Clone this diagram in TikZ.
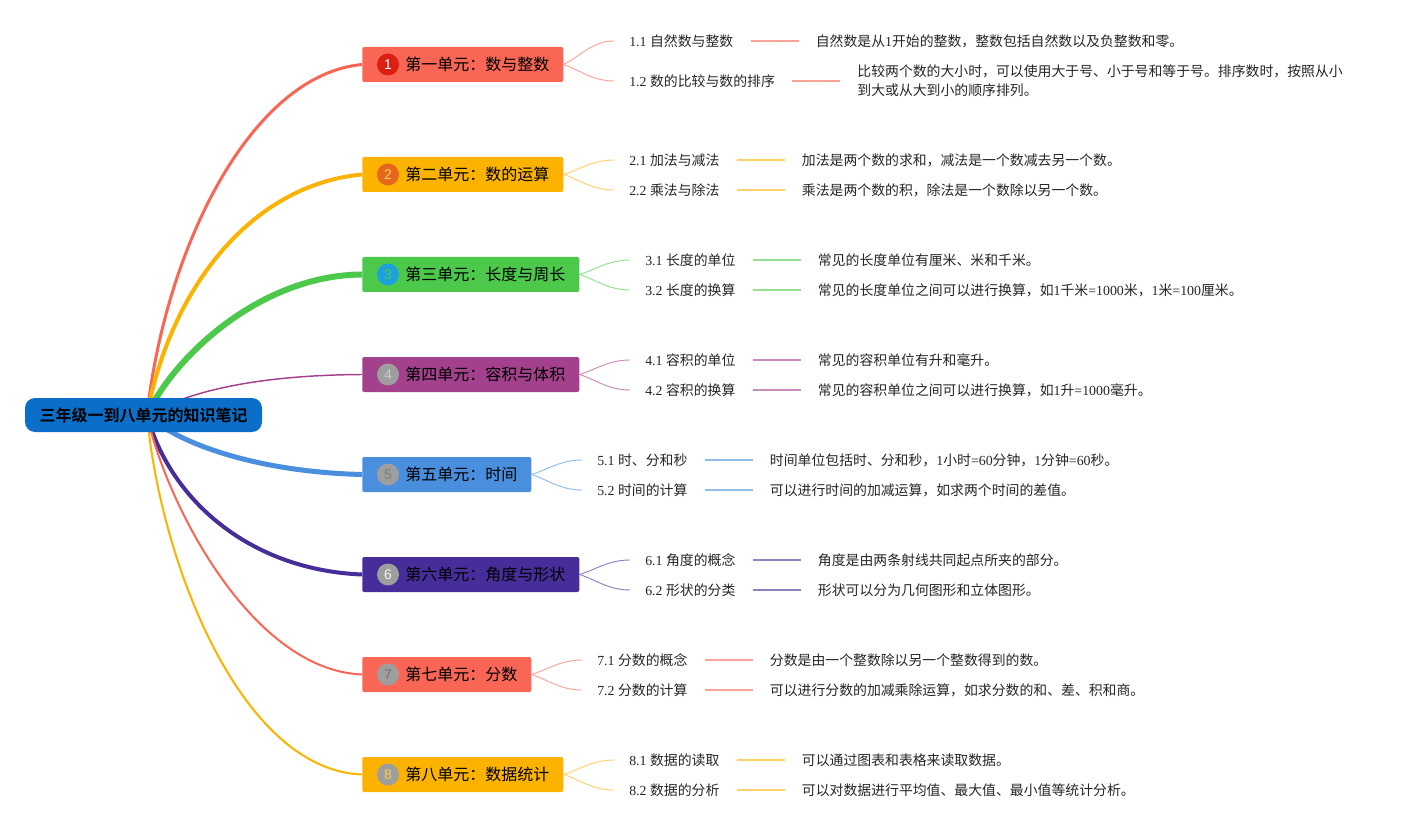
\documentclass[tikz,border=0pt]{standalone}
\usepackage{fontspec}
\setmainfont{Noto Sans CJK SC}[BoldFont={Noto Sans CJK SC Bold}]
\newfontfamily\latinfont{Liberation Serif}
\newfontfamily\badgefont{Liberation Sans}
\newcommand\latn[1]{{\latinfont #1}}
\usetikzlibrary{calc}
\definecolor{cA}{HTML}{F96655}
\definecolor{cB}{HTML}{FBB300}
\definecolor{cC}{HTML}{4CC94A}
\definecolor{cD}{HTML}{A3418C}
\definecolor{cE}{HTML}{4A8FDE}
\definecolor{cF}{HTML}{472D99}
\definecolor{rootblue}{HTML}{0B6FC9}
\definecolor{bA}{HTML}{DD1F13}
\definecolor{bB}{HTML}{E5661C}
\definecolor{bC}{HTML}{1CA1DC}
\definecolor{bG}{HTML}{9E9E9E}
\newcommand\branch[3]{%
  \coordinate (#3e) at ($(#3.west)+(-15,0)$);
  \draw[#1!60, line width=0.7pt] (#2.east) .. controls ($(#2.east)!0.3!(#3e)$) and ($(#3e)+(-22,0)$) .. (#3e);}
\newcommand\dline[3]{%
  \draw[#1!60, line width=1.1pt, shorten <=12.75pt, shorten >=12.75pt] (#2.east) -- (#2.east -| #3.west);}
\newcommand\utext[1]{\hspace*{32.25pt}#1\hspace*{10.5pt}}
\begin{document}
\begin{tikzpicture}[x=0.75pt,y=-0.75pt,
  unit/.style={anchor=west, inner sep=0pt, minimum height=26.25pt, rounded corners=1.5pt,
    font=\fontsize{12}{14}\selectfont, text=black},
  badge/.style={circle, inner sep=0pt, minimum size=16.5pt, font=\badgefont\fontsize{10.5}{12}\selectfont},
  sub/.style={anchor=west, inner sep=0pt, text height=0.88em, text depth=0.12em,
    font=\fontsize{10.4}{14.25}\selectfont, text=black!85},
  desc2/.style={anchor=west, inner sep=0pt, align=left,
    font=\fontsize{10.4}{14.25}\selectfont, text=black!85},
  root/.style={fill=rootblue, rounded corners=7.5pt, inner sep=0pt, minimum width=177.75pt,
    minimum height=25.5pt, font=\bfseries\fontsize{12}{14}\selectfont, text=black}
]
\fill[white] (0,0) rectangle (1416,830);
\useasboundingbox (0,0) rectangle (1416,830);

% unit node anchors (drawn first for names)
\node[unit] (u1) at (362,64.5) {\utext{第一单元：数与整数}};
\node[unit] (u2) at (362,174.5) {\utext{第二单元：数的运算}};
\node[unit] (u3) at (362,274.5) {\utext{第三单元：长度与周长}};
\node[unit] (u4) at (362,374.5) {\utext{第四单元：容积与体积}};
\node[unit] (u5) at (362,474.5) {\utext{第五单元：时间}};
\node[unit] (u6) at (362,574.5) {\utext{第六单元：角度与形状}};
\node[unit] (u7) at (362,674.5) {\utext{第七单元：分数}};
\node[unit] (u8) at (362,774.5) {\utext{第八单元：数据统计}};

% main connectors
\coordinate (hub) at (147,415);
\draw[cA, line width=2.25pt] (hub) .. controls (165,250) and (250,75) .. (u1.west);
\draw[cB, line width=3pt] (hub) .. controls (170,290) and (250,185) .. (u2.west);
\draw[cC, line width=4.5pt] (hub) .. controls (175,355) and (262,275) .. (u3.west);
\draw[cD, line width=1.1pt] (hub) .. controls (200,385) and (280,375) .. (u4.west);
\draw[cE, line width=3.75pt] (hub) .. controls (180,445) and (260,472) .. (u5.west);
\draw[cF, line width=3pt] (hub) .. controls (170,500) and (250,570) .. (u6.west);
\draw[cA, line width=1.5pt] (hub) .. controls (165,500) and (250,670) .. (u7.west);
\draw[cB, line width=1.5pt] (hub) .. controls (160,560) and (240,770) .. (u8.west);

% unit boxes on top of connector ends
\node[unit, fill=cA] at (362,64.5) {\utext{第一单元：数与整数}};
\node[unit, fill=cB] at (362,174.5) {\utext{第二单元：数的运算}};
\node[unit, fill=cC] at (362,274.5) {\utext{第三单元：长度与周长}};
\node[unit, fill=cD] at (362,374.5) {\utext{第四单元：容积与体积}};
\node[unit, fill=cE] at (362,474.5) {\utext{第五单元：时间}};
\node[unit, fill=cF] at (362,574.5) {\utext{第六单元：角度与形状}};
\node[unit, fill=cA] at (362,674.5) {\utext{第七单元：分数}};
\node[unit, fill=cB] at (362,774.5) {\utext{第八单元：数据统计}};

% root
\node[root] (root) at (143.5,415) {三年级一到八单元的知识笔记};

% badges
\node[badge, fill=bA, text=white] (b1) at ($(u1.west)+(26,0)$) {1};
\node[badge, fill=bB, text=cB!60] (b2) at ($(u2.west)+(26,0)$) {2};
\node[badge, fill=bC, text=cC] (b3) at ($(u3.west)+(26,0)$) {3};
\node[badge, fill=bG, text=black!20] (b4) at ($(u4.west)+(26,0)$) {4};
\node[badge, fill=bG, text=black!50] (b5) at ($(u5.west)+(26,0)$) {5};
\node[badge, fill=bG, text=black!6] (b6) at ($(u6.west)+(26,0)$) {6};
\node[badge, fill=bG, text=black!55] (b7) at ($(u7.west)+(26,0)$) {7};
\node[badge, fill=bG, text=cB!70] (b8) at ($(u8.west)+(26,0)$) {8};

% subtopics
\node[sub] (s11) at (629,41) {\latn{1.1 }自然数与整数};
\node[sub] (s12) at (629,81) {\latn{1.2 }数的比较与数的排序};
\node[sub] (s21) at (629,160) {\latn{2.1 }加法与减法};
\node[sub] (s22) at (629,190) {\latn{2.2 }乘法与除法};
\node[sub] (s31) at (645,260) {\latn{3.1 }长度的单位};
\node[sub] (s32) at (645,290) {\latn{3.2 }长度的换算};
\node[sub] (s41) at (645,360) {\latn{4.1 }容积的单位};
\node[sub] (s42) at (645,390) {\latn{4.2 }容积的换算};
\node[sub] (s51) at (597,460) {\latn{5.1 }时、分和秒};
\node[sub] (s52) at (597,490) {\latn{5.2 }时间的计算};
\node[sub] (s61) at (645,560) {\latn{6.1 }角度的概念};
\node[sub] (s62) at (645,590) {\latn{6.2 }形状的分类};
\node[sub] (s71) at (597,660) {\latn{7.1 }分数的概念};
\node[sub] (s72) at (597,690) {\latn{7.2 }分数的计算};
\node[sub] (s81) at (629,760) {\latn{8.1 }数据的读取};
\node[sub] (s82) at (629,790) {\latn{8.2 }数据的分析};

% descriptions
\node[sub] (d11) at ($(s11.east)+(82,0)$) {自然数是从\latn{1}开始的整数，整数包括自然数以及负整数和零。};
\node[desc2] (d12) at ($(s12.east)+(82,0)$) {比较两个数的大小时，可以使用大于号、小于号和等于号。排序数时，按照从小\\到大或从大到小的顺序排列。};
\node[sub] (d21) at ($(s21.east)+(82,0)$) {加法是两个数的求和，减法是一个数减去另一个数。};
\node[sub] (d22) at ($(s22.east)+(82,0)$) {乘法是两个数的积，除法是一个数除以另一个数。};
\node[sub] (d31) at ($(s31.east)+(82,0)$) {常见的长度单位有厘米、米和千米。};
\node[sub] (d32) at ($(s32.east)+(82,0)$) {常见的长度单位之间可以进行换算，如\latn{1}千米\latn{=1000}米，\latn{1}米\latn{=100}厘米。};
\node[sub] (d41) at ($(s41.east)+(82,0)$) {常见的容积单位有升和毫升。};
\node[sub] (d42) at ($(s42.east)+(82,0)$) {常见的容积单位之间可以进行换算，如\latn{1}升\latn{=1000}毫升。};
\node[sub] (d51) at ($(s51.east)+(82,0)$) {时间单位包括时、分和秒，\latn{1}小时\latn{=60}分钟，\latn{1}分钟\latn{=60}秒。};
\node[sub] (d52) at ($(s52.east)+(82,0)$) {可以进行时间的加减运算，如求两个时间的差值。};
\node[sub] (d61) at ($(s61.east)+(82,0)$) {角度是由两条射线共同起点所夹的部分。};
\node[sub] (d62) at ($(s62.east)+(82,0)$) {形状可以分为几何图形和立体图形。};
\node[sub] (d71) at ($(s71.east)+(82,0)$) {分数是由一个整数除以另一个整数得到的数。};
\node[sub] (d72) at ($(s72.east)+(82,0)$) {可以进行分数的加减乘除运算，如求分数的和、差、积和商。};
\node[sub] (d81) at ($(s81.east)+(82,0)$) {可以通过图表和表格来读取数据。};
\node[sub] (d82) at ($(s82.east)+(82,0)$) {可以对数据进行平均值、最大值、最小值等统计分析。};

% branch curves
\branch{cA}{u1}{s11}\branch{cA}{u1}{s12}
\branch{cB}{u2}{s21}\branch{cB}{u2}{s22}
\branch{cC}{u3}{s31}\branch{cC}{u3}{s32}
\branch{cD}{u4}{s41}\branch{cD}{u4}{s42}
\branch{cE}{u5}{s51}\branch{cE}{u5}{s52}
\branch{cF}{u6}{s61}\branch{cF}{u6}{s62}
\branch{cA}{u7}{s71}\branch{cA}{u7}{s72}
\branch{cB}{u8}{s81}\branch{cB}{u8}{s82}

% lines to descriptions
\dline{cA}{s11}{d11}\dline{cA}{s12}{d12}
\dline{cB}{s21}{d21}\dline{cB}{s22}{d22}
\dline{cC}{s31}{d31}\dline{cC}{s32}{d32}
\dline{cD}{s41}{d41}\dline{cD}{s42}{d42}
\dline{cE}{s51}{d51}\dline{cE}{s52}{d52}
\dline{cF}{s61}{d61}\dline{cF}{s62}{d62}
\dline{cA}{s71}{d71}\dline{cA}{s72}{d72}
\dline{cB}{s81}{d81}\dline{cB}{s82}{d82}
\end{tikzpicture}
\end{document}
